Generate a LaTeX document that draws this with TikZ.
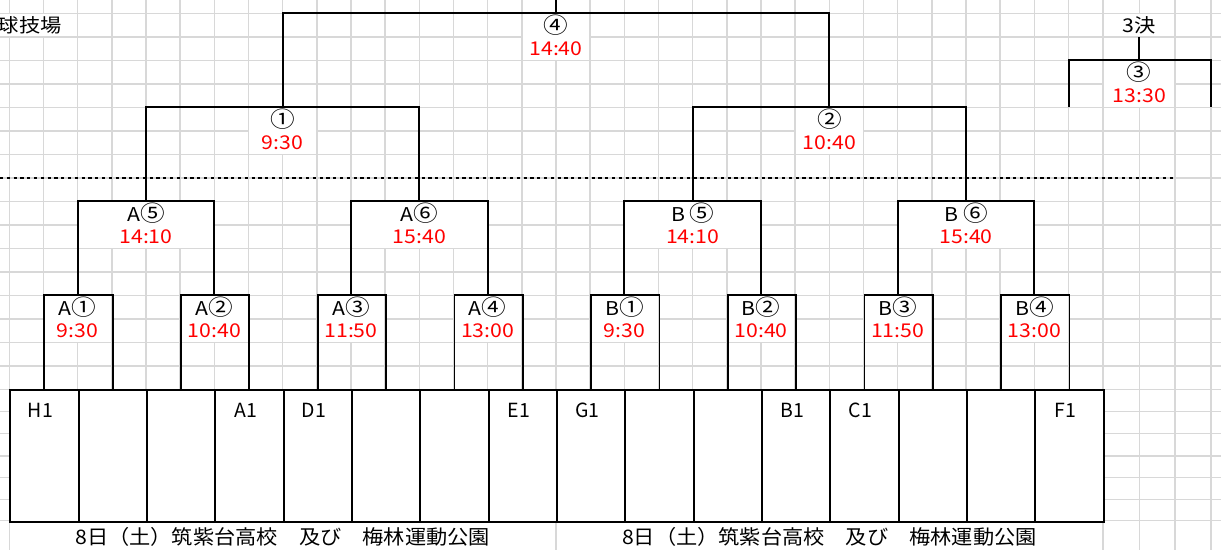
\documentclass[tikz,border=0pt]{standalone}
\usepackage{fontspec}
\setmainfont{Noto Sans CJK JP}
\definecolor{gridc}{RGB}{216,216,216}
\definecolor{timered}{RGB}{255,0,0}
\newcommand{\colx}[1]{9.3+34.17*(#1)}
\newcommand{\rowy}[1]{13.3+23.5*(#1)}
\newcommand{\hs}[1]{\scalebox{1.12}[1]{#1}}
\newcommand{\circn}[1]{{\fontsize{22}{22}\selectfont #1}}
\newcommand{\wcover}[4]{\fill[white] ({#1+0.8},{#2+0.8}) rectangle ({#3-0.8},{#4-0.8});}
\begin{document}
\begin{tikzpicture}[x=1pt,y=-1pt,
  gridline/.style={draw=gridc,line width=1.5pt},
  bline/.style={draw=black,line width=1.9pt},
  dotline/.style={draw=black,line width=1.6pt,dash pattern=on 3.2pt off 3.6pt},
  teambox/.style={draw=black,line width=1.9pt,fill=white,minimum width=68.33pt,minimum height=131.4pt,inner sep=0pt,anchor=north west},
  lbl/.style={inner sep=0pt,font=\fontsize{19}{19}\selectfont},
  tm/.style={inner sep=0pt,text=timered,font=\fontsize{19}{19}\selectfont},
  team/.style={inner sep=0pt,font=\fontsize{19.5}{19.5}\selectfont},
  venue/.style={inner sep=0pt,font=\fontsize{20}{20}\selectfont}
]
\useasboundingbox (0,0) rectangle (1221,550);
\fill[white] (0,0) rectangle (1221,550);
% spreadsheet grid
\foreach \k in {0,...,32} \draw[gridline] ({\colx{\k}},0) -- ({\colx{\k}},550);
\foreach \xx in {1139.3,1175,1211} \draw[gridline] (\xx,0) -- (\xx,550);
\foreach \k in {0,...,16} \draw[gridline] (0,{\rowy{\k}}) -- (1221,{\rowy{\k}});
\foreach \yy in {411.7,433.3,456,477.7,499.3,520.7} \draw[gridline] (0,\yy) -- (1221,\yy);
% cells whose text hides the grid
\foreach \j in {0,...,7} {\wcover{\colx{4*\j+1}}{\rowy{12}}{\colx{4*\j+3}}{\rowy{14}}}
\foreach \m in {0,...,3} {\wcover{\colx{8*\m+2}}{\rowy{8}}{\colx{8*\m+6}}{\rowy{10}}}
\foreach \n in {0,1} {\wcover{\colx{16*\n+7}}{\rowy{4}}{\colx{16*\n+9}}{\rowy{6}}}
\wcover{\colx{15}}{\rowy{0}}{\colx{17}}{\rowy{2}}
\wcover{1102.7}{\rowy{0}}{1175}{\rowy{1}}
\wcover{1102.7}{\rowy{2}}{1175}{\rowy{4}}
\wcover{-2}{\rowy{0}}{\colx{2}}{\rowy{1}}
\wcover{\colx{0}}{520.7}{\colx{16}}{552}
\wcover{\colx{16}}{520.7}{\colx{32}}{552}
% dotted separator
\coordinate (dotL) at (0,{\rowy{7}});
\coordinate (dotR) at (1176,{\rowy{7}});
\draw[dotline] (dotL) -- (dotR);
% team boxes
\foreach \i in {0,...,15} \node[teambox] (b\i) at ({\colx{2*\i}},{\rowy{16}}) {};
% junction points
\foreach \j in {0,...,7} \coordinate (m\j) at ({\colx{4*\j+2}},{\rowy{12}});
\foreach \m in {0,...,3} \coordinate (q\m) at ({\colx{8*\m+4}},{\rowy{8}});
\foreach \n in {0,1} \coordinate (s\n) at ({\colx{16*\n+8}},{\rowy{4}});
\coordinate (f) at ({\colx{16}},{\rowy{0}});
\coordinate (ftop) at ({\colx{16}},0);
% brackets
\foreach \j in {0,...,7} {
  \pgfmathtruncatemacro{\ba}{2*\j}\pgfmathtruncatemacro{\bb}{2*\j+1}
  \draw[bline] (b\ba.north) |- (m\j) -| (b\bb.north);
}
\foreach \m in {0,...,3} {
  \pgfmathtruncatemacro{\ma}{2*\m}\pgfmathtruncatemacro{\mb}{2*\m+1}
  \draw[bline] (m\ma) |- (q\m) -| (m\mb);
}
\foreach \n in {0,1} {
  \pgfmathtruncatemacro{\qa}{2*\n}\pgfmathtruncatemacro{\qb}{2*\n+1}
  \draw[bline] (q\qa) |- (s\n) -| (q\qb);
}
\draw[bline] (s0) |- (f) -| (s1);
\draw[bline] (f) -- (ftop);
% third place bracket
\coordinate (t) at (1139.3,{\rowy{2}});
\coordinate (tl) at ({\colx{31}},{\rowy{4}});
\coordinate (tr) at (1211,{\rowy{4}});
\coordinate (ttop) at (1139.3,{\rowy{1}});
\draw[bline] (tl) |- (t) -| (tr);
\draw[bline] (t) -- (ttop);
% match labels
\foreach \j/\la/\lb/\tim in {0/A/①/9:30,1/A/②/10:40,2/A/③/11:50,3/A/④/13:00,4/B/①/9:30,5/B/②/10:40,6/B/③/11:50,7/B/④/13:00} {
  \node[lbl] (lm\j) at ({\colx{4*\j+2}},{\rowy{12}+11.75}) {\hs{\la\circn{\lb}}};
  \node[tm] (tm\j) at ({\colx{4*\j+2}},{\rowy{12}+35.25}) {\hs{\tim}};
}
\foreach \m/\la/\lb/\tim in {0/A/⑤/14:10,1/A/⑥/15:40,2/B /⑤/14:10,3/B /⑥/15:40} {
  \node[lbl] (lq\m) at ({\colx{8*\m+4}},{\rowy{8}+11.75}) {\hs{\la\circn{\lb}}};
  \node[tm] (tq\m) at ({\colx{8*\m+4}},{\rowy{8}+35.25}) {\hs{\tim}};
}
\foreach \n/\lb/\tim in {0/①/9:30,1/②/10:40} {
  \node[lbl] (ls\n) at ({\colx{16*\n+8}},{\rowy{4}+11.75}) {\hs{\circn{\lb}}};
  \node[tm] (ts\n) at ({\colx{16*\n+8}},{\rowy{4}+35.25}) {\hs{\tim}};
}
\node[lbl] (lf) at ({\colx{16}},{\rowy{0}+11.75}) {\hs{\circn{④}}};
\node[tm] (tf) at ({\colx{16}},{\rowy{0}+35.25}) {\hs{14:40}};
\node[lbl] (l3) at (1139.3,{\rowy{2}+11.75}) {\hs{\circn{③}}};
\node[tm] (t3) at (1139.3,{\rowy{2}+35.25}) {\hs{13:30}};
\node[lbl] (third) at (1139.3,{\rowy{0}+12}) {\hs{3決}};
\node[lbl,anchor=east] (venueA) at (62,{\rowy{0}+12}) {\hs{球技場}};
% team names
\foreach \i/\tn in {0/H1,3/A1,4/D1,7/E1,8/G1,11/B1,12/C1,15/F1}
  \node[team] (tn\i) at ({\colx{2*\i+1}-3},410) {\tn};
% venue lines
\node[venue] (day1) at ({\colx{8}},537) {\scalebox{1.06}[1]{8日（土）筑紫台高校　及び　梅林運動公園}};
\node[venue] (day2) at ({\colx{24}},537) {\scalebox{1.06}[1]{8日（土）筑紫台高校　及び　梅林運動公園}};
\end{tikzpicture}
\end{document}
